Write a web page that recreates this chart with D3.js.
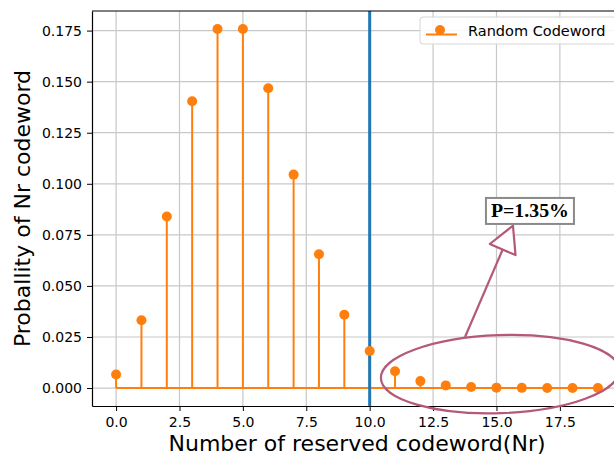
<!DOCTYPE html>
<html>
<head>
<meta charset="utf-8">
<script src="https://cdn.jsdelivr.net/npm/d3@7"></script>
<style>
  body { margin: 0; background: #fff; }
</style>
</head>
<body>
<svg id="chart" width="614" height="455" font-family="DejaVu Sans, sans-serif"></svg>
<script>
// number of reserved codewords and the probability of each
const nr = [0, 1, 2, 3, 4, 5, 6, 7, 8, 9, 10, 11, 12, 13, 14, 15, 16, 17, 18, 19]
const prob = [0.0066, 0.0332, 0.0840, 0.1404, 0.1758, 0.1758, 0.1468, 0.1045, 0.0655, 0.0359,
  0.0181, 0.0082, 0.0034, 0.0013, 0.0005, 0.0002, 0.0001, 0.00003, 0.00001, 0.0]
const xTicks = [0, 2.5, 5, 7.5, 10, 12.5, 15, 17.5]
const yTicks = [0, 0.025, 0.05, 0.075, 0.1, 0.125, 0.15, 0.175]
const threshold = 10
const seriesName = 'Random Codeword'
const noteText = 'P=1.35%'

const orange = '#ff7f0e'
const blue = '#1f77b4'
const rose = '#b5587a'

const svg = d3.select('#chart')
const margin = { left: 92, top: 11, right: -8, bottom: 49 }
const width = +svg.attr('width')
const height = +svg.attr('height')

// matplotlib style 5% padding around the data
const xPad = 0.05 * (d3.max(nr) - d3.min(nr))
const yPad = 0.05 * d3.max(prob)
const x = d3.scaleLinear()
  .domain([d3.min(nr) - xPad, d3.max(nr) + xPad])
  .range([margin.left, width - margin.right])
const y = d3.scaleLinear()
  .domain([-yPad, d3.max(prob) + yPad])
  .range([height - margin.bottom, margin.top])

const plot = svg.append('g')

// grid
plot.append('g').selectAll('line').data(xTicks).enter().append('line')
  .attr('x1', d => x(d)).attr('x2', d => x(d))
  .attr('y1', y.range()[0]).attr('y2', y.range()[1])
  .attr('stroke', '#c8c8c8').attr('stroke-width', 1.2)
plot.append('g').selectAll('line').data(yTicks).enter().append('line')
  .attr('x1', x.range()[0]).attr('x2', x.range()[1])
  .attr('y1', d => y(d)).attr('y2', d => y(d))
  .attr('stroke', '#c8c8c8').attr('stroke-width', 1.2)

// axes
svg.append('g')
  .attr('transform', 'translate(0,' + y.range()[0] + ')')
  .call(d3.axisBottom(x).tickValues(xTicks).tickFormat(d3.format('.1f')).tickSizeInner(5).tickSizeOuter(0).tickPadding(6))
svg.append('g')
  .attr('transform', 'translate(' + x.range()[0] + ',0)')
  .call(d3.axisLeft(y).tickValues(yTicks).tickFormat(d3.format('.3f')).tickSizeInner(5).tickSizeOuter(0).tickPadding(5))
svg.selectAll('.tick text').attr('font-size', 14).attr('fill', '#000').attr('font-family', 'DejaVu Sans')
svg.selectAll('.domain').attr('stroke', '#000').attr('stroke-width', 1.2)
svg.selectAll('.tick line').attr('stroke', '#000')

// top spine
svg.append('line')
  .attr('x1', x.range()[0]).attr('x2', x.range()[1])
  .attr('y1', y.range()[1]).attr('y2', y.range()[1])
  .attr('stroke', '#000').attr('stroke-width', 1.2)

// stem baseline and stems
plot.append('line')
  .attr('x1', x(d3.min(nr))).attr('x2', x(d3.max(nr)))
  .attr('y1', y(0)).attr('y2', y(0))
  .attr('stroke', orange).attr('stroke-width', 2)
plot.append('g').selectAll('line').data(nr).enter().append('line')
  .attr('x1', d => x(d)).attr('x2', d => x(d))
  .attr('y1', y(0)).attr('y2', (d, i) => y(prob[i]))
  .attr('stroke', orange).attr('stroke-width', 2)

// threshold line
plot.append('line')
  .attr('x1', x(threshold)).attr('x2', x(threshold))
  .attr('y1', y.range()[0]).attr('y2', y.range()[1])
  .attr('stroke', blue).attr('stroke-width', 3)

plot.append('g').selectAll('circle').data(nr).enter().append('circle')
  .attr('cx', d => x(d)).attr('cy', (d, i) => y(prob[i]))
  .attr('r', 5).attr('fill', orange)

// legend
const lg = svg.append('g')
lg.append('rect').attr('x', 420).attr('y', 17).attr('width', 200).attr('height', 27).attr('rx', 3)
  .attr('fill', '#fff').attr('fill-opacity', 0.85).attr('stroke', '#d6d6d6')
lg.append('line').attr('x1', 426).attr('x2', 457).attr('y1', 34.5).attr('y2', 34.5)
  .attr('stroke', orange).attr('stroke-width', 2)
lg.append('line').attr('x1', 440).attr('x2', 440).attr('y1', 34.5).attr('y2', 30)
  .attr('stroke', orange).attr('stroke-width', 2)
lg.append('circle').attr('cx', 440).attr('cy', 30).attr('r', 5).attr('fill', orange)
lg.append('text').attr('x', 468).attr('y', 36).attr('font-size', 14.5).attr('fill', '#000').text(seriesName)

// axis titles
svg.append('text')
  .attr('x', (x.range()[0] + x.range()[1]) / 2).attr('y', 451)
  .attr('text-anchor', 'middle').attr('font-size', 22).attr('fill', '#000')
  .text('Number of reserved codeword(Nr)')
svg.append('text')
  .attr('transform', 'translate(30,' + (y.range()[0] + y.range()[1]) / 2 + ') rotate(-90)')
  .attr('text-anchor', 'middle').attr('font-size', 22).attr('fill', '#000')
  .text('Proballity of Nr codeword')

// annotation: ellipse around the tail, arrow and note box
const ell = { cx: 15.14, cy: 0.0068, rx: 4.7, ry: 0.0191 }
const ecx = x(ell.cx), ecy = y(ell.cy)
svg.append('ellipse')
  .attr('cx', ecx).attr('cy', ecy)
  .attr('rx', x(ell.cx + ell.rx) - ecx).attr('ry', ecy - y(ell.cy + ell.ry))
  .attr('transform', 'rotate(-2,' + ecx + ',' + ecy + ')')
  .attr('fill', 'none').attr('stroke', rose).attr('stroke-width', 2.2)

const tail = [x(13.76), y(0.025)]
const tip = [x(15.65), y(0.0795)]
const dx = tip[0] - tail[0], dy = tip[1] - tail[1]
const len = Math.hypot(dx, dy)
const ux = dx / len, uy = dy / len
const headL = 26, headW = 14
const base = [tip[0] - ux * headL, tip[1] - uy * headL]
svg.append('line')
  .attr('x1', tail[0]).attr('y1', tail[1]).attr('x2', base[0]).attr('y2', base[1])
  .attr('stroke', rose).attr('stroke-width', 2.2)
svg.append('polygon')
  .attr('points', [tip, [base[0] - uy * headW, base[1] + ux * headW], [base[0] + uy * headW, base[1] - ux * headW]].map(p => p.join(',')).join(' '))
  .attr('fill', '#fff').attr('stroke', rose).attr('stroke-width', 2.2).attr('stroke-linejoin', 'round')

const bx = x(16.32), by = y(0.0867)
svg.append('rect').attr('x', bx - 44).attr('y', by - 13).attr('width', 88).attr('height', 26)
  .attr('fill', '#fff').attr('stroke', '#8a8a8a').attr('stroke-width', 2)
svg.append('text').attr('x', bx).attr('y', by + 6.5)
  .attr('text-anchor', 'middle')
  .style('font-family', "'Liberation Serif', 'Times New Roman', serif")
  .attr('font-weight', 'bold').attr('font-size', 19).attr('textLength', 78).attr('lengthAdjust', 'spacingAndGlyphs')
  .attr('fill', '#000').text(noteText)
</script>
</body>
</html>
